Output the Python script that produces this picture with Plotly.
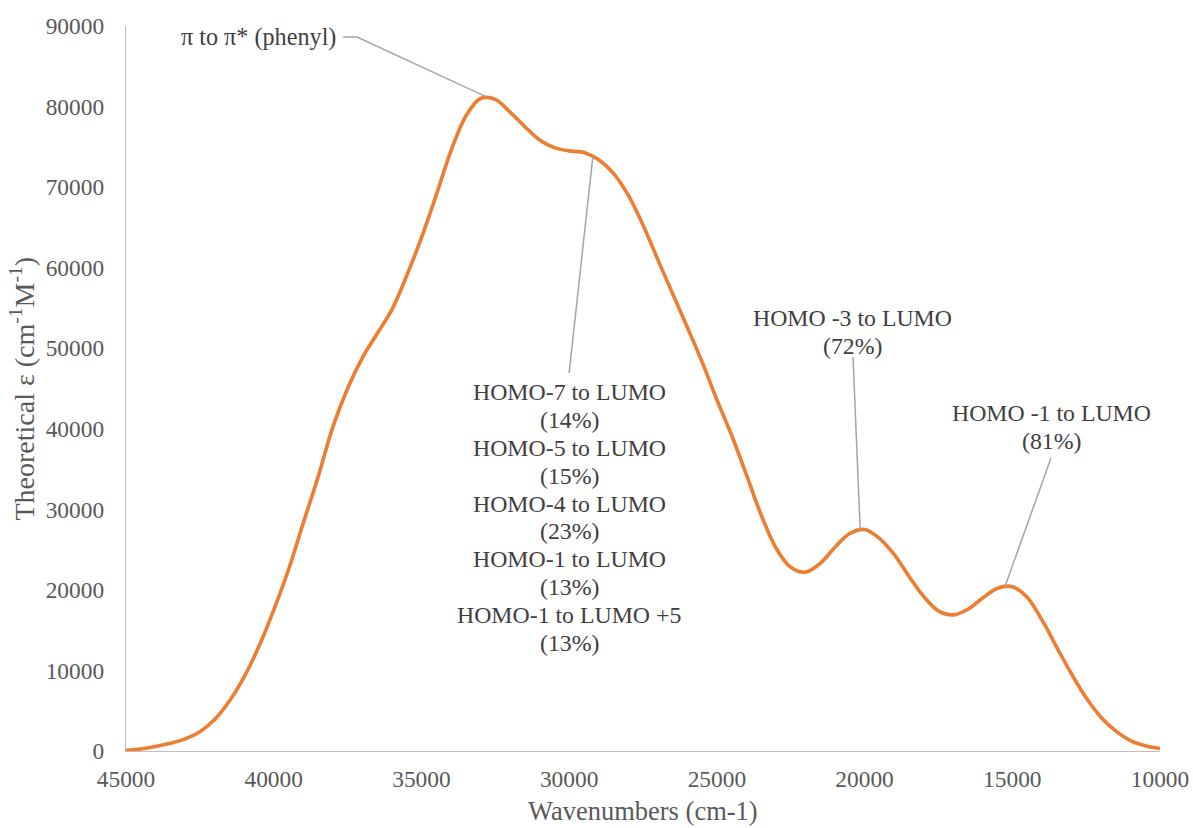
import numpy as np
import plotly.graph_objects as go

# Simulated absorption spectrum (wavenumber in cm-1, molar absorptivity)
wavenumber = [45000, 44500, 44000, 43500, 43000, 42500, 42000, 41500, 41000, 40500,
              40000, 39500, 39000, 38500, 38000, 37500, 37000, 36500, 36000, 35500,
              35000, 34500, 34000, 33500, 33000, 32500, 32000, 31500, 31000, 30500,
              30000, 29500, 29000, 28500, 28000, 27500, 27000, 26500, 26000, 25500,
              25000, 24500, 24000, 23500, 23000, 22500, 22000, 21500, 21000, 20500,
              20000, 19500, 19000, 18500, 18000, 17500, 17000, 16500, 16000, 15500,
              15000, 14500, 14000, 13500, 13000, 12500, 12000, 11500, 11000, 10500,
              10000]
epsilon = [100, 250, 550, 950, 1500, 2400, 3900, 6200, 9200, 13000,
           17500, 22500, 28300, 34000, 40200, 45000, 48800, 51800, 54800, 59000,
           63700, 69000, 74500, 78800, 81000, 80900, 79300, 77500, 75850, 74900,
           74500, 74300, 73400, 71700, 69000, 65300, 61000, 56800, 52600, 48300,
           43600, 39200, 34300, 29300, 25200, 22800, 22200, 23300, 25300, 27000,
           27500, 26400, 24400, 21700, 19200, 17400, 16900, 17600, 19000, 20200,
           20400, 19100, 16300, 12900, 9600, 6600, 4200, 2500, 1300, 650,
           300]

x_ticks = [45000, 40000, 35000, 30000, 25000, 20000, 15000, 10000]
y_ticks = [0, 10000, 20000, 30000, 40000, 50000, 60000, 70000, 80000, 90000]

label_phenyl = ["π to π* (phenyl)"]
label_shoulder = ["HOMO-7 to LUMO", "(14%)", "HOMO-5 to LUMO", "(15%)",
                  "HOMO-4 to LUMO", "(23%)", "HOMO-1 to LUMO", "(13%)",
                  "HOMO-1 to LUMO +5", "(13%)"]
label_h3 = ["HOMO -3 to LUMO", "(72%)"]
label_h1 = ["HOMO -1 to LUMO", "(81%)"]

x_title = "Wavenumbers (cm-1)"
y_title = "Theoretical ε (cm<sup>-1</sup>M<sup>-1</sup>)"

wn = np.array(wavenumber, dtype=float)
ep = np.array(epsilon, dtype=float)


def peak_in(lo, hi):
    """Return (wavenumber, epsilon) of the maximum inside [lo, hi]."""
    mask = (wn >= lo) & (wn <= hi)
    i = np.argmax(np.where(mask, ep, -1))
    return wn[i], ep[i]


def on_curve(x):
    return x, float(np.interp(x, wn[::-1], ep[::-1]))


FONT = "Liberation Serif, serif"
TEXT_COLOR = "#404040"
AXIS_TEXT = "#595959"
LEADER = "#A5A5A5"
LABEL_SIZE = 23.8
TICK_SIZE = 23.4
LINE_GAP = 27.9  # px between stacked label lines

fig = go.Figure()
fig.add_trace(go.Scatter(
    x=wavenumber, y=epsilon, mode="lines",
    line=dict(color="#ED7D31", width=3.6, shape="spline", smoothing=1.0),
    hoverinfo="skip", showlegend=False,
))

annotations = []
shapes = []


def add_block(lines, x, y, size=LABEL_SIZE):
    for k, t in enumerate(lines):
        annotations.append(dict(
            x=x, y=y, xref="x", yref="y", text=t, showarrow=False,
            xanchor="center", yanchor="middle", yshift=-k * LINE_GAP,
            font=dict(family=FONT, size=size, color=TEXT_COLOR),
        ))


# π to π* label with elbow leader to the main maximum
px_, py_ = peak_in(31000, 35000)
add_block(label_phenyl, 40530, 88640, 24.2)
shapes.append(dict(type="path", xref="x", yref="y",
                   path=f"M 37650,88640 L 37180,88640 L 32800,{py_ + 200}",
                   line=dict(color=LEADER, width=1.5)))

# Shoulder label block
sx, sy = on_curve(29200)
add_block(label_shoulder, 29990, 44570)
shapes.append(dict(type="line", xref="x", yref="y", x0=30000, y0=46930,
                   x1=sx, y1=sy, line=dict(color=LEADER, width=1.5)))

# HOMO-3 band
hx, hy = peak_in(18500, 22000)
add_block(label_h3, 20410, 53750)
shapes.append(dict(type="line", xref="x", yref="y", x0=20390, y0=48910,
                   x1=20150, y1=hy, line=dict(color=LEADER, width=1.5)))

# HOMO-1 band
lx, ly = peak_in(13000, 16500)
add_block(label_h1, 13670, 41960)
shapes.append(dict(type="line", xref="x", yref="y", x0=13690, y0=36370,
                   x1=15250, y1=ly, line=dict(color=LEADER, width=1.5)))

# Axis titles
annotations.append(dict(
    x=0.5, y=0, xref="paper", yref="paper", text=x_title, showarrow=False,
    xanchor="center", yanchor="middle", yshift=-60, borderpad=0,
    font=dict(family=FONT, size=26.5, color=AXIS_TEXT),
))
annotations.append(dict(
    x=0, y=0.5, xref="paper", yref="paper", text=y_title, showarrow=False,
    xanchor="center", yanchor="middle", xshift=-103, textangle=-90,
    font=dict(family=FONT, size=28, color=AXIS_TEXT),
))

fig.update_layout(
    width=1193, height=828,
    margin=dict(l=126, r=33, t=26, b=77),
    paper_bgcolor="white", plot_bgcolor="white",
    showlegend=False, hovermode=False,
    annotations=annotations, shapes=shapes,
    font=dict(family=FONT, color=AXIS_TEXT, size=TICK_SIZE),
)
fig.update_xaxes(
    range=[45000, 10000], tickvals=x_ticks, ticktext=[str(v) for v in x_ticks],
    showgrid=False, zeroline=False, showline=True, linecolor="#BFBFBF", linewidth=1.3,
    ticks="", ticklabelstandoff=7, automargin=False,
    tickfont=dict(family=FONT, size=TICK_SIZE, color=AXIS_TEXT),
)
fig.update_yaxes(
    range=[0, 90000], tickvals=y_ticks, ticktext=[str(v) for v in y_ticks],
    showgrid=False, zeroline=False, showline=True, linecolor="#BFBFBF", linewidth=1.3,
    ticks="", ticklabelstandoff=16, automargin=False,
    tickfont=dict(family=FONT, size=TICK_SIZE, color=AXIS_TEXT),
)

fig.write_html("out.html")
